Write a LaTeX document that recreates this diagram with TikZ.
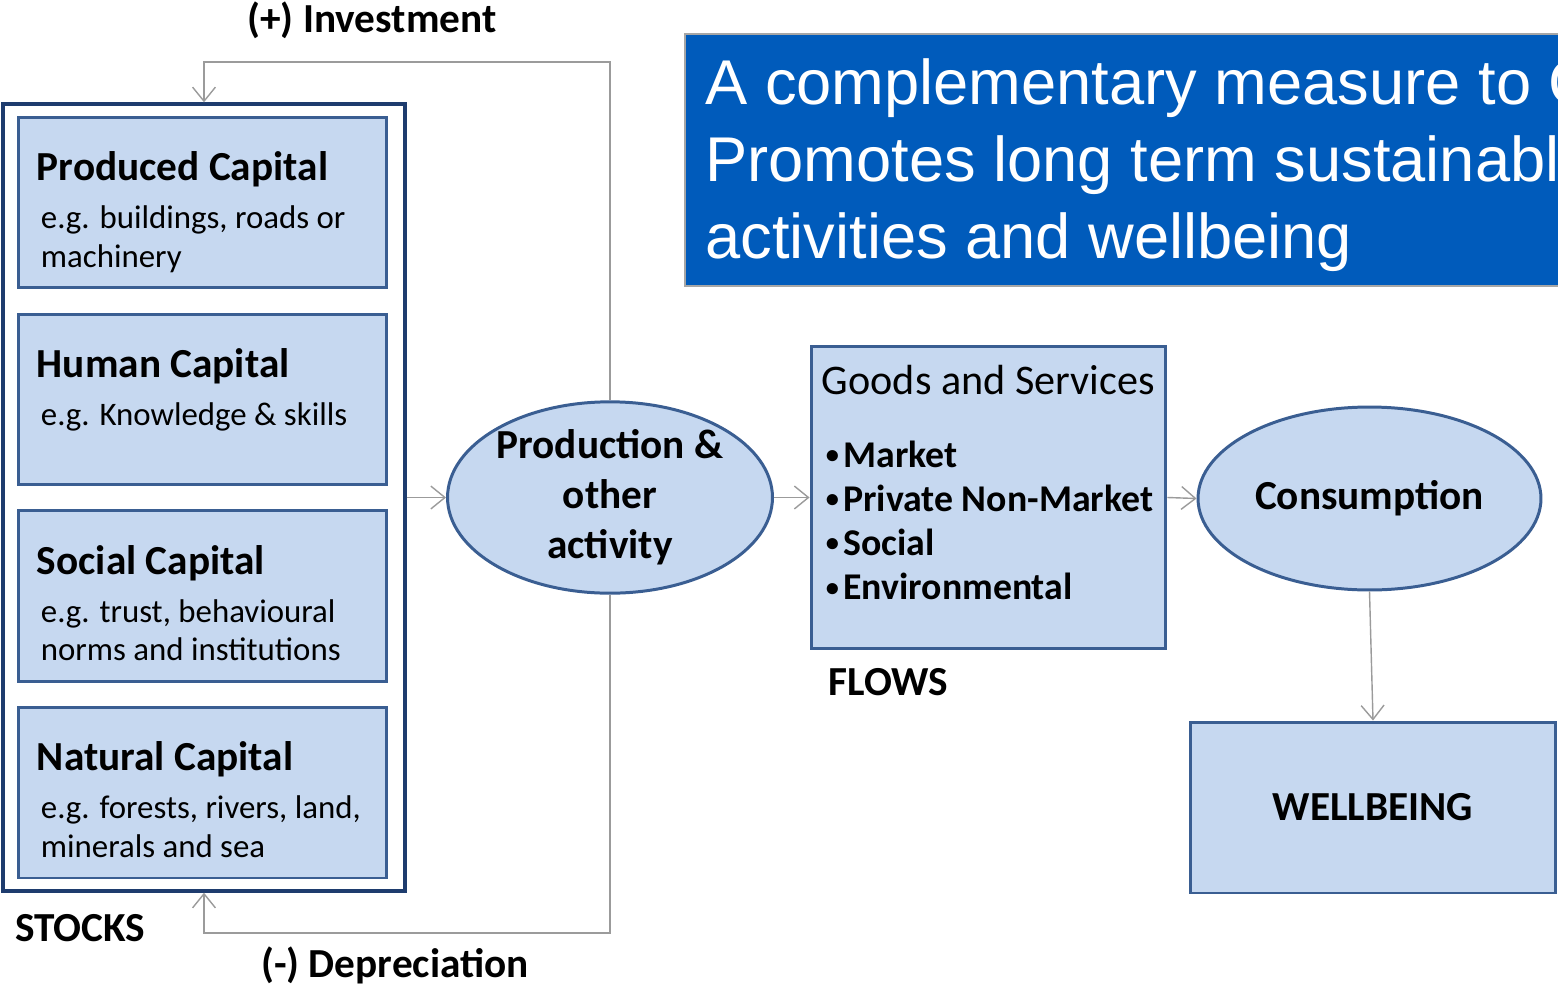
\documentclass[tikz,border=0pt]{standalone}
\usepackage{fontspec}
\setmainfont{Carlito}
\newfontfamily\bannerfont{Liberation Sans}
\usetikzlibrary{arrows.meta,shapes.geometric}

\definecolor{boxfill}{RGB}{198,216,240}
\definecolor{boxline}{RGB}{58,94,146}
\definecolor{stockline}{RGB}{30,60,110}
\definecolor{bannerblue}{RGB}{0,91,187}
\definecolor{flowgrey}{RGB}{155,155,155}

% small bullet for the list of flows
\newcommand{\dotitem}{\raisebox{0.2ex}{\fontsize{15}{15}\selectfont\textbullet}\hspace{2.5pt}}

\begin{document}
\begin{tikzpicture}[x=0.02cm, y=-0.02cm, every node/.style={inner sep=0pt},
    capbox/.style={draw=boxline, line width=1.7pt, fill=boxfill, minimum width=7.38cm, minimum height=3.42cm},
    blob/.style={ellipse, draw=boxline, line width=1.7pt, fill=boxfill, align=center, font=\bfseries\fontsize{23.5}{28.4}\selectfont},
    head/.style={anchor=base west, font=\bfseries\fontsize{23.5}{28}\selectfont},
    hint/.style={anchor=north west, align=left, font=\fontsize{18.7}{22}\selectfont},
    tag/.style={font=\bfseries\fontsize{23.5}{28}\selectfont},
    flow/.style={draw=flowgrey, line width=0.8pt, -{Straight Barb[length=8pt,width=13pt]}}]
    \useasboundingbox (0,0) rectangle (1558,987);
    \clip (0,0) rectangle (1558,987);

    % stocks column
    \node[draw=stockline, line width=2pt, minimum width=8.04cm, minimum height=15.74cm] (stocks) at (204,497.5) {};
    \node[capbox] (prodcap) at (202.5,202.5) {};
    \node[capbox] (humcap) at (202.5,399.5) {};
    \node[capbox] (soccap) at (202.5,596) {};
    \node[capbox] (natcap) at (202.5,792.5) {};
    \node[head] (prodcapT) at ([shift={(20,65)}]prodcap.north west) {Produced Capital};
    \node[hint] (prodcapS) at ([shift={(24,90)}]prodcap.north west) {e.g. buildings, roads or\\machinery};
    \node[head] (humcapT) at ([shift={(20,65)}]humcap.north west) {Human Capital};
    \node[hint] (humcapS) at ([shift={(24,90)}]humcap.north west) {e.g. Knowledge \& skills};
    \node[head] (soccapT) at ([shift={(20,65)}]soccap.north west) {Social Capital};
    \node[hint] (soccapS) at ([shift={(24,90)}]soccap.north west) {e.g. trust, behavioural\\norms and institutions};
    \node[head] (natcapT) at ([shift={(20,65)}]natcap.north west) {Natural Capital};
    \node[hint] (natcapS) at ([shift={(24,90)}]natcap.north west) {e.g. forests, rivers, land,\\minerals and sea};
    \node[tag, anchor=west] (stocksL) at (15,928) {STOCKS};

    % flows
    \node[blob, minimum width=6.5cm, minimum height=3.7cm] (prod) at (610,497.5) {Production \&\\other\\activity};
    \node[draw=boxline, line width=1.7pt, fill=boxfill, minimum width=7.1cm, minimum height=6.06cm] (goods) at (988.5,497.5) {};
    \node[anchor=base west, font=\fontsize{24}{28}\selectfont] (goodsT) at ([shift={(12,50)}]goods.north west) {Goods and Services};
    \node[anchor=north west, align=left, font=\bfseries\fontsize{21.5}{25.1}\selectfont] (goodsL) at ([shift={(16,96)}]goods.north west)
      {\dotitem Market\\\dotitem Private Non-Market\\\dotitem Social\\\dotitem Environmental};
    \node[tag, anchor=west] (flowsL) at (828,682) {FLOWS};
    \node[blob, minimum width=6.86cm, minimum height=3.66cm] (cons) at (1369.5,498.5) {Consumption};
    \node[draw=boxline, line width=1.7pt, fill=boxfill, minimum width=7.32cm, minimum height=3.42cm, font=\bfseries\fontsize{23.5}{28}\selectfont] (well) at (1373,807.5) {WELLBEING};

    % banner
    \node[draw=black!35, line width=1.2pt, fill=bannerblue, anchor=north west, minimum width=24cm, minimum height=5.04cm] (note) at (684,33) {};
    \node[anchor=west, text=white, align=left, font=\bannerfont\fontsize{36}{43.7}\selectfont] (noteT) at ([shift={(21,5)}]note.west)
      {A complementary measure to GDP\\Promotes long term sustainable\\activities and wellbeing};

    % connectors
    \coordinate (invtop) at (610,62);
    \coordinate (depbot) at (610,933);
    \draw[flow] (stocks.east) -- (prod.west);
    \draw[flow] (prod.east) -- (goods.west);
    \draw[flow] (goods.east) -- (cons.west);
    \draw[flow] (cons.south) -- (well.north);
    \draw[flow] (prod.north) -- (invtop) -| (stocks.north);
    \draw[flow] (prod.south) -- (depbot) -| (stocks.south);
    \node[tag] (invL) at (372,20) {(+) Investment};
    \node[tag] (depL) at (395,965) {(-) Depreciation};
\end{tikzpicture}
\end{document}
